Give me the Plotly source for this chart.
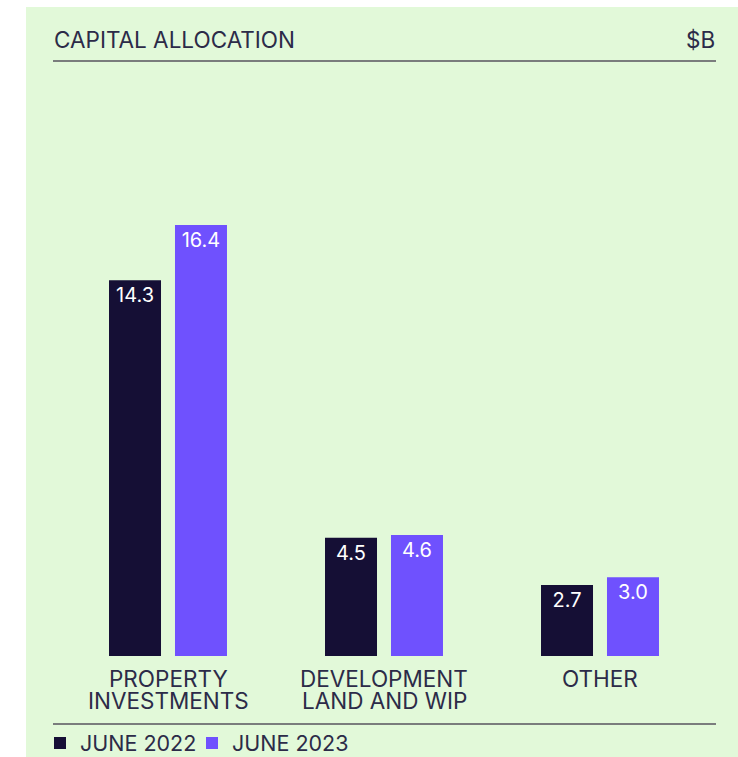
"""
Grouped bar chart of capital allocation, June 2022 vs June 2023 ($B)
"""
import plotly.graph_objects as go

# data
categories = ['PROPERTY INVESTMENTS', 'DEVELOPMENT LAND AND WIP', 'OTHER']
category_lines = [['PROPERTY', 'INVESTMENTS'], ['DEVELOPMENT', 'LAND AND WIP'], ['OTHER']]
june_2022 = [14.3, 4.5, 2.7]
june_2023 = [16.4, 4.6, 3.0]
series_names = ['JUNE 2022', 'JUNE 2023']

DARK = '#150f35'
PURPLE = '#6f51fe'
BG = '#e2f9d9'
INK = '#2c2b48'
RULE = '#7a7d7d'
FONT = 'Inter'

W, H = 738, 757
L, R, T, B = 60, 30, 100, 101
PW, PH = W - L - R, H - T - B


def px(x):
    return (x - L) / PW


def py(y):
    return (H - B - y) / PH


fig = go.Figure()
for name, vals, col, lw in zip(series_names, [june_2022, june_2023], [DARK, PURPLE], [107, None]):
    fig.add_trace(go.Bar(
        x=categories, y=vals, name=name, marker_color=col, marker_line_width=0,
        texttemplate='%{y:.1f}', textposition='inside', insidetextanchor='end',
        textfont=dict(color='white', size=20, family=FONT), constraintext='none',
        legendwidth=lw,
    ))

# category labels, one annotation per line
for cat, lines in zip(categories, category_lines):
    for i, line in enumerate(lines):
        fig.add_annotation(x=cat, xref='x', y=py(678 + 22 * i), yref='paper',
                           text=line, showarrow=False, yanchor='middle',
                           font=dict(size=22.5, color=INK, family=FONT))

fig.add_annotation(x=px(54), y=py(39), xref='paper', yref='paper', text='CAPITAL ALLOCATION',
                   showarrow=False, xanchor='left', yanchor='middle', xshift=-2,
                   font=dict(size=22.5, color=INK, family=FONT))
fig.add_annotation(x=px(715), y=py(39), xref='paper', yref='paper', text='$B',
                   showarrow=False, xanchor='right', yanchor='middle', xshift=2,
                   font=dict(size=22.5, color=INK, family=FONT))

shapes = [
    # white margin outside the green panel
    dict(type='rect', xref='paper', yref='paper', x0=px(-5), x1=px(26), y0=py(H + 5), y1=py(-5),
         fillcolor='white', line_width=0, layer='below'),
    dict(type='rect', xref='paper', yref='paper', x0=px(-5), x1=px(W + 5), y0=py(7), y1=py(-5),
         fillcolor='white', line_width=0, layer='below'),
    # rules
    dict(type='line', xref='paper', yref='paper', x0=px(53), x1=px(716), y0=py(61), y1=py(61),
         line=dict(color=RULE, width=2)),
    dict(type='line', xref='paper', yref='paper', x0=px(53), x1=px(716), y0=py(724), y1=py(724),
         line=dict(color=RULE, width=2)),
]

fig.update_layout(
    width=W, height=H, margin=dict(l=L, r=R, t=T, b=B, autoexpand=False),
    paper_bgcolor=BG, plot_bgcolor=BG,
    barmode='group', bargap=0.389, bargroupgap=0.212,
    shapes=shapes,
    showlegend=True,
    legend=dict(orientation='h', xref='container', yref='container', x=40 / W, xanchor='left',
                y=(H - 743) / H, yanchor='middle',
                bgcolor='rgba(0,0,0,0)', font=dict(size=21.5, color=INK, family=FONT),
                itemclick=False, itemdoubleclick=False),
    font=dict(family=FONT, color=INK),
)
fig.update_xaxes(showticklabels=False, showgrid=False, zeroline=False, showline=False, ticks='')
fig.update_yaxes(range=[0, PH / 26.28], visible=False, showgrid=False)

fig.write_html('out.html', config={'displayModeBar': False},
               post_script="document.body.style.margin='0';")
